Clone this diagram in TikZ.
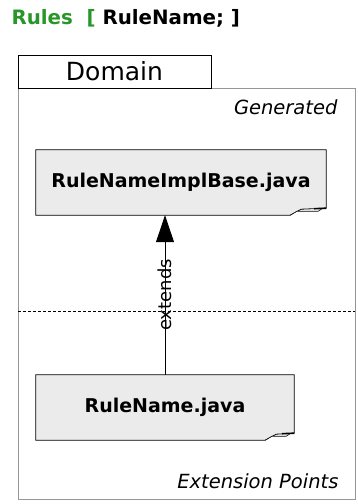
\documentclass[tikz,border=0pt]{standalone}
\usepackage{fontspec}
\setmainfont{DejaVu Sans}
\usetikzlibrary{arrows.meta,backgrounds}
\definecolor{rulegreen}{RGB}{40,150,40}
\definecolor{boxgray}{RGB}{235,235,235}
\definecolor{framegray}{RGB}{150,150,150}

% outline of a file box with a curled corner: #1 node, #2 fold width
\newcommand{\filebody}[2]{%
  \begin{scope}[on background layer]
    \filldraw[fill=boxgray, line width=0.8pt]
      (#1.south west) -- (#1.north west) -- (#1.north east)
      -- ([yshift=7pt]#1.south east)
      -- ([xshift={(11-#2)*1pt},yshift=6pt]#1.south east)
      -- ([xshift=-#2pt]#1.south east) -- cycle;
    \filldraw[fill=white, line width=0.6pt] ([xshift=-#2pt]#1.south east)
      -- ([xshift={(7-#2)*1pt},yshift=4pt]#1.south east)
      -- ([xshift=-8pt,yshift=4pt]#1.south east)
      -- ([xshift=-4pt,yshift=6.5pt]#1.south east);
    \draw[line width=1.6pt] ([xshift=-12pt,yshift=6.5pt]#1.south east)
      -- ([yshift=7pt]#1.south east);
  \end{scope}}

\begin{document}
\begin{tikzpicture}[x=1pt,y=-1pt,
    filebox/.style={minimum width=#1, minimum height=65pt, inner sep=0pt,
      font=\fontsize{19}{22}\selectfont\bfseries},
    zone/.style={font=\fontsize{19.5}{22}\selectfont\itshape, anchor=east},
    extarrow/.style={-{Triangle[length=27pt,width=18pt]}, line width=0.8pt}]
  \useasboundingbox (0,0) rectangle (357,504);

  % Title
  \node[anchor=west, font=\fontsize{19.8}{23}\selectfont\bfseries] (title)
    at (8,18) {\textcolor{rulegreen}{Rules\ \ [} RuleName; ]};

  % Domain frame
  \draw[framegray, line width=0.8pt] (18,88) rectangle (355,499);
  \node[draw, line width=0.8pt, minimum width=193pt, minimum height=33pt,
    inner sep=0pt, font=\fontsize{25}{28}\selectfont] (domain)
    at (114.5,71.5) {Domain};
  \node[zone] (gen) at (341,107) {Generated};
  \node[zone] (ext) at (342,481) {Extension Points};

  % Separator
  \draw[dash pattern=on 3pt off 2pt, line width=1pt] (18,311) -- (355,311);

  % Files
  \node[filebox=290pt] (impl) at (181,182.5) {RuleNameImplBase.java};
  \node[filebox=258pt] (rule) at (165,407.5) {RuleName.java};
  \filebody{impl}{36}
  \filebody{rule}{29}

  % Inheritance
  \draw[extarrow] (rule.north)
    -- node[sloped, font=\fontsize{18}{21}\selectfont] (extlbl) {extends}
    (rule.north |- impl.south);
\end{tikzpicture}
\end{document}
